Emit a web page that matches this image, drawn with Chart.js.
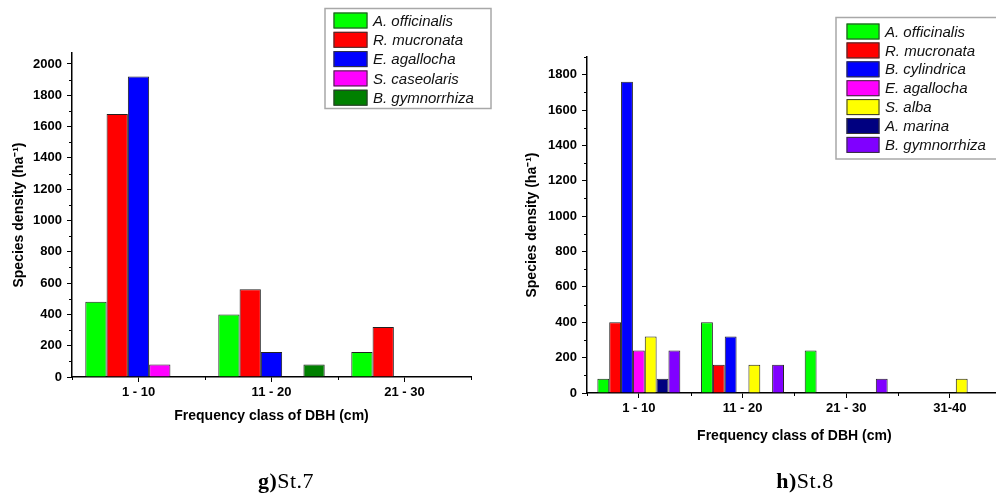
<!DOCTYPE html>
<html>
<head>
<meta charset="utf-8">
<script src="https://cdn.jsdelivr.net/npm/chart.js@4.4.1/dist/chart.umd.min.js"></script>
<style>
  html, body { margin: 0; padding: 0; background: #fff; }
  body { width: 996px; height: 498px; overflow: hidden; position: relative; }
  canvas { position: absolute; top: 0; }
  #c7 { left: 0; }
  #c8 { left: 500px; }
  .cap { position: absolute; top: 470px; font-family: "Liberation Serif", "Times New Roman", serif;
         font-size: 22px; line-height: 21px; letter-spacing: 0.5px; color: #000; white-space: nowrap;
         transform: translateX(-50%); }
  .cap b { font-weight: bold; }
</style>
</head>
<body>
<canvas id="c7" width="500" height="498"></canvas>
<canvas id="c8" width="510" height="498"></canvas>
<div class="cap" style="left:286px"><b>g)</b>St.7</div>
<div class="cap" style="left:805px"><b>h)</b>St.8</div>
<script>
// ---------- data: station 7 ----------
const st7Categories = ['1 - 10', '11 - 20', '21 - 30'];
const st7Species = ['A. officinalis', 'R. mucronata', 'E. agallocha', 'S. caseolaris', 'B. gymnorrhiza'];
const st7Officinalis = [480, 400, 160];
const st7Mucronata   = [1680, 560, 320];
const st7Agallocha   = [1920, 160, 0];
const st7Caseolaris  = [80, 0, 0];
const st7Gymnorrhiza = [0, 80, 0];
const st7YTicks = [0, 200, 400, 600, 800, 1000, 1200, 1400, 1600, 1800, 2000];

// ---------- data: station 8 ----------
const st8Categories = ['1 - 10', '11 - 20', '21 - 30', '31-40'];
const st8Species = ['A. officinalis', 'R. mucronata', 'B. cylindrica', 'E. agallocha', 'S. alba', 'A. marina', 'B. gymnorrhiza'];
const st8Officinalis = [80, 400, 240, 0];
const st8Mucronata   = [400, 160, 0, 0];
const st8Cylindrica  = [1760, 320, 0, 0];
const st8Agallocha   = [240, 0, 0, 0];
const st8Alba        = [320, 160, 0, 80];
const st8Marina      = [80, 0, 0, 0];
const st8Gymnorrhiza = [240, 160, 80, 0];
const st8YTicks = [0, 200, 400, 600, 800, 1000, 1200, 1400, 1600, 1800];

const yTitle = 'Species density (ha\u207B\u00B9)';
const xTitle = 'Frequency class of DBH (cm)';

// ---------- styles ----------
const st7Colors = ['#00ff00', '#ff0000', '#0000ff', '#ff00ff', '#008000'];
const st8Colors = ['#00ff00', '#ff0000', '#0000ff', '#ff00ff', '#ffff00', '#000080', '#8000ff'];
const FONT = '"Liberation Sans", Arial, sans-serif';

const boxLegend = {
  id: 'boxLegend',
  afterDraw(chart, args, o) {
    const ctx = chart.ctx;
    ctx.save();
    ctx.strokeStyle = '#a8a8a8';
    ctx.lineWidth = 1.5;
    ctx.strokeRect(o.x, o.y, o.w, o.h);
    ctx.font = 'italic 15px ' + FONT;
    ctx.textBaseline = 'middle';
    ctx.textAlign = 'left';
    chart.data.datasets.forEach((ds, i) => {
      const cy = o.y + o.first + i * o.row;
      ctx.fillStyle = ds.backgroundColor;
      ctx.fillRect(o.sx, cy - o.sh / 2, o.sw, o.sh);
      ctx.strokeStyle = '#333';
      ctx.lineWidth = 1;
      ctx.strokeRect(o.sx + 0.5, cy - o.sh / 2 + 0.5, o.sw - 1, o.sh - 1);
      ctx.fillStyle = '#111';
      ctx.fillText(ds.label, o.tx, cy + 1);
    });
    ctx.restore();
  }
};

const minorTicks = {
  id: 'minorTicks',
  afterDraw(chart) {
    const ctx = chart.ctx;
    const y = chart.scales.y, x = chart.scales.x;
    ctx.save();
    ctx.strokeStyle = '#000';
    ctx.lineWidth = 1;
    ctx.beginPath();
    for (let v = 100; v <= y.max; v += 200) {
      const py = Math.round(y.getPixelForValue(v)) + 0.5;
      ctx.moveTo(y.right - 3, py);
      ctx.lineTo(y.right, py);
    }
    const n = chart.data.labels.length;
    const half = (x.getPixelForValue(1) - x.getPixelForValue(0)) / 2;
    for (let i = 0; i <= n; i++) {
      const px = Math.round(x.getPixelForValue(0) - half + i * 2 * half) + 0.5;
      ctx.moveTo(px, x.top);
      ctx.lineTo(px, x.top + 3);
    }
    ctx.stroke();
    ctx.restore();
  }
};

function makeChart(id, labels, species, series, colors, cfg) {
  const datasets = series.map((d, i) => ({
    label: species[i],
    data: d,
    backgroundColor: colors[i],
    borderColor: '#222',
    borderWidth: 1,
    borderSkipped: 'bottom',
    categoryPercentage: 0.8,
    barPercentage: 1.0
  }));
  return new Chart(document.getElementById(id), {
    type: 'bar',
    data: { labels, datasets },
    plugins: [boxLegend, minorTicks],
    options: {
      responsive: false,
      animation: false,
      events: [],
      layout: { padding: { top: cfg.top, right: cfg.right, left: 0, bottom: 0 } },
      plugins: {
        legend: { display: false },
        tooltip: { enabled: false },
        boxLegend: cfg.legend
      },
      scales: {
        x: {
          type: 'category',
          offset: true,
          afterFit(s) { s.height = cfg.xHeight; },
          grid: { display: true, offset: false, drawOnChartArea: false, drawTicks: true, tickLength: 5, tickColor: '#000', tickWidth: 1 },
          border: { display: true, color: '#000', width: 1.5 },
          ticks: { color: '#000', padding: 3, maxRotation: 0, font: { family: FONT, size: 13, weight: 'bold' } },
          title: { display: true, text: xTitle, color: '#000', padding: { top: 0, bottom: cfg.xTitlePad }, font: { family: FONT, size: 14, weight: 'bold' } }
        },
        y: {
          min: 0,
          max: cfg.yMax,
          afterFit(s) { s.width = cfg.yWidth; },
          afterBuildTicks(s) { s.ticks = cfg.yTicks.map(v => ({ value: v })); },
          grid: { display: true, drawOnChartArea: false, drawTicks: true, tickLength: 5, tickColor: '#000', tickWidth: 1 },
          border: { display: true, color: '#000', width: 1.5 },
          ticks: { color: '#000', padding: 5, callback: v => String(v), font: { family: FONT, size: 13, weight: 'bold' } },
          title: { display: true, text: yTitle, color: '#000', padding: { top: cfg.yTitlePad, bottom: 0 }, font: { family: FONT, size: 14, weight: 'bold' } }
        }
      }
    }
  });
}

makeChart('c7', st7Categories, st7Species,
  [st7Officinalis, st7Mucronata, st7Agallocha, st7Caseolaris, st7Gymnorrhiza], st7Colors,
  { top: 53, right: 29, yWidth: 72, xHeight: 121, yMax: 2070, yTicks: st7YTicks,
    xTitlePad: 73.6, yTitlePad: 10.6,
    legend: { x: 325, y: 8.5, w: 166, h: 100, first: 12, row: 19.3, sx: 333.5, sw: 34, sh: 16, tx: 373 } });

makeChart('c8', st8Categories, st8Species,
  [st8Officinalis, st8Mucronata, st8Cylindrica, st8Agallocha, st8Alba, st8Marina, st8Gymnorrhiza], st8Colors,
  { top: 57, right: 8.3, yWidth: 87, xHeight: 105, yMax: 1900, yTicks: st8YTicks,
    xTitlePad: 53.6, yTitlePad: 24.1,
    legend: { x: 336, y: 17.5, w: 170, h: 141.5, first: 14, row: 18.9, sx: 346.5, sw: 33, sh: 16, tx: 385 } });
</script>
</body>
</html>
